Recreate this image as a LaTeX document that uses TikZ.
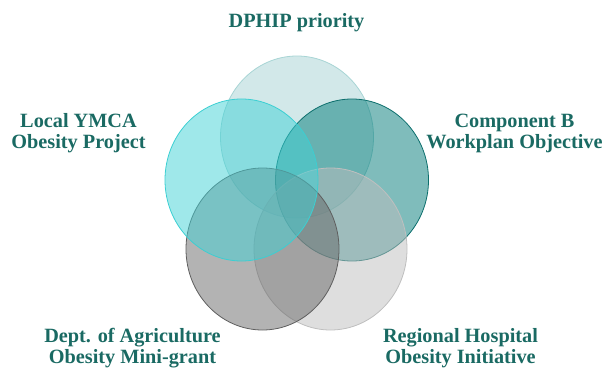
\documentclass[tikz,border=0pt]{standalone}
\usepackage{fontspec}
\setmainfont{Liberation Serif}
\definecolor{labelteal}{HTML}{1A6A63}
\definecolor{topfill}{HTML}{A5D1D3}
\definecolor{topline}{HTML}{A8D5D5}
\definecolor{rightfill}{HTML}{007A78}
\definecolor{rightline}{HTML}{0D6F6D}
\definecolor{brfill}{HTML}{BDBDBD}
\definecolor{brline}{HTML}{BFBFBF}
\definecolor{blfill}{HTML}{676767}
\definecolor{blline}{HTML}{5F5F5F}
\definecolor{leftfill}{HTML}{40D2D6}
\definecolor{leftline}{HTML}{3CCFD2}

\begin{document}
\begin{tikzpicture}[x=0.75pt, y=0.75pt,
  vennlabel/.style={align=center, inner sep=0pt, text=labelteal,
    font=\bfseries\fontsize{15.2}{15.75}\selectfont}]
\useasboundingbox (0,0) rectangle (605,368);
% circles, back to front
\foreach \cx/\cy/\fc/\lc in {297/231/topfill/topline, 352/188/rightfill/rightline,
    330.5/119/brfill/brline, 262.5/119/blfill/blline, 241.5/188/leftfill/leftline}{
	\draw[fill=\fc, fill opacity=0.5, draw=\lc, line width=0.6pt]
		(\cx,\cy) ellipse (76.5 and 81);
}

\node[vennlabel] (dphip) at (296.5,345) {DPHIP priority};
\node[vennlabel] (ymca)  at (78.5,235) {Local YMCA\\Obesity Project};
\node[vennlabel] (compb) at (514.5,235) {Component B\\Workplan Objective};
\node[vennlabel] (agri)  at (132.5,20) {Dept. of Agriculture\\Obesity Mini-grant};
\node[vennlabel] (hosp)  at (460.5,20) {Regional Hospital\\Obesity Initiative};
\end{tikzpicture}
\end{document}
